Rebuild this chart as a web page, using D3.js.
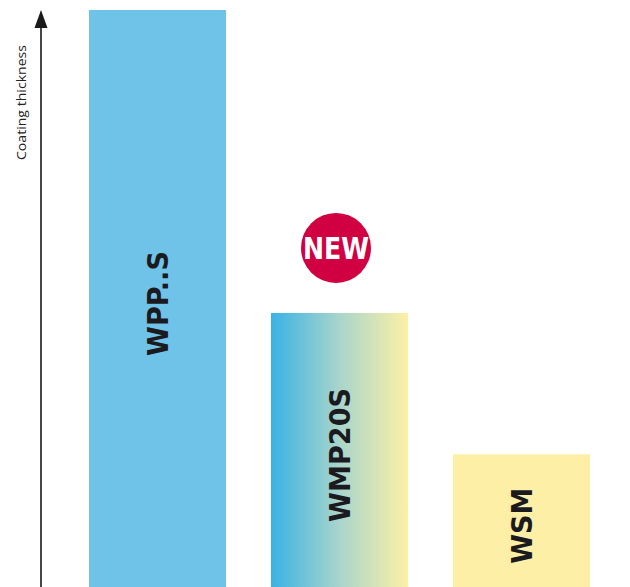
<!DOCTYPE html>
<html><head><meta charset="utf-8">
<script src="https://cdn.jsdelivr.net/npm/d3@7"></script>
<style>html,body{margin:0;padding:0;background:#fff;}svg{display:block;}</style>
</head><body>
<script>
const categories = ["WPP..S", "WMP20S", "WSM"];
const values = [100, 47.5, 23];
const axisLabel = "Coating thickness";
const badgeText = "NEW";
const badgeFor = "WMP20S";

const W = 630, H = 587;
const svg = d3.select("body").append("svg").attr("width", W).attr("height", H);

const x = d3.scaleBand().domain(categories).range([89, 590]).paddingInner(0.247).paddingOuter(0);
const y = d3.scaleLinear().domain([0, 100]).range([587, 10]);

const defs = svg.append("defs");
const grad = defs.append("linearGradient").attr("id", "g2").attr("x1", "0").attr("x2", "1").attr("y1", "0").attr("y2", "0");
grad.append("stop").attr("offset", "0").attr("stop-color", "#38b3e5");
grad.append("stop").attr("offset", "0.5").attr("stop-color", "#a9d5cb");
grad.append("stop").attr("offset", "1").attr("stop-color", "#fdf0a6");

const fills = ["#6fc3e8", "url(#g2)", "#fdf0a6"];

svg.selectAll("rect.bar").data(categories).join("rect")
  .attr("class", "bar")
  .attr("x", d => x(d)).attr("width", x.bandwidth())
  .attr("y", (d, i) => y(values[i])).attr("height", (d, i) => y(0) - y(values[i]))
  .attr("fill", (d, i) => fills[i]);

const lens = [105, 134, 76];
svg.selectAll("text.lbl").data(categories).join("text")
  .attr("class", "lbl")
  .attr("transform", (d, i) => {
    const cx = x(d) + x.bandwidth() / 2;
    const cy = (y(values[i]) + y(0)) / 2 + 5;
    return `translate(${cx},${cy}) rotate(-90)`;
  })
  .attr("text-anchor", "middle")
  .attr("dy", "0.36em")
  .attr("font-family", "DejaVu Sans")
  .attr("font-weight", "bold")
  .attr("font-size", 28)
  .attr("fill", "#1b1a1f")
  .attr("textLength", (d, i) => lens[i])
  .attr("lengthAdjust", "spacingAndGlyphs")
  .text(d => d);

// axis
const ax = 41;
svg.append("line").attr("x1", ax).attr("x2", ax).attr("y1", y(0)).attr("y2", y(100) + 14)
  .attr("stroke", "#1a1a1a").attr("stroke-width", 1.6);
svg.append("path")
  .attr("d", `M${ax},${y(100)} L${ax + 6.5},${y(100) + 18} L${ax - 6.5},${y(100) + 18} Z`)
  .attr("fill", "#1a1a1a");

svg.append("text")
  .attr("transform", `translate(21.5,102.5) rotate(-90)`)
  .attr("text-anchor", "middle").attr("dy", "0.35em")
  .attr("font-family", "Open Sans").attr("font-size", 12.5)
  .attr("fill", "#222")
  .attr("textLength", 115).attr("lengthAdjust", "spacingAndGlyphs")
  .text(axisLabel);

// badge
const bi = categories.indexOf(badgeFor);
const bcx = x(badgeFor) + x.bandwidth() / 2 - 3.5;
const bcy = y(values[bi]) - 65;
svg.append("circle").attr("cx", bcx).attr("cy", bcy).attr("r", 35).attr("fill", "#d10042");
svg.append("text").attr("x", bcx).attr("y", bcy).attr("dy", "0.36em")
  .attr("text-anchor", "middle")
  .attr("font-family", "DejaVu Sans").attr("font-weight", "bold").attr("font-size", 30)
  .attr("fill", "#fff")
  .attr("textLength", 66).attr("lengthAdjust", "spacingAndGlyphs")
  .text(badgeText);
</script>
</body></html>
